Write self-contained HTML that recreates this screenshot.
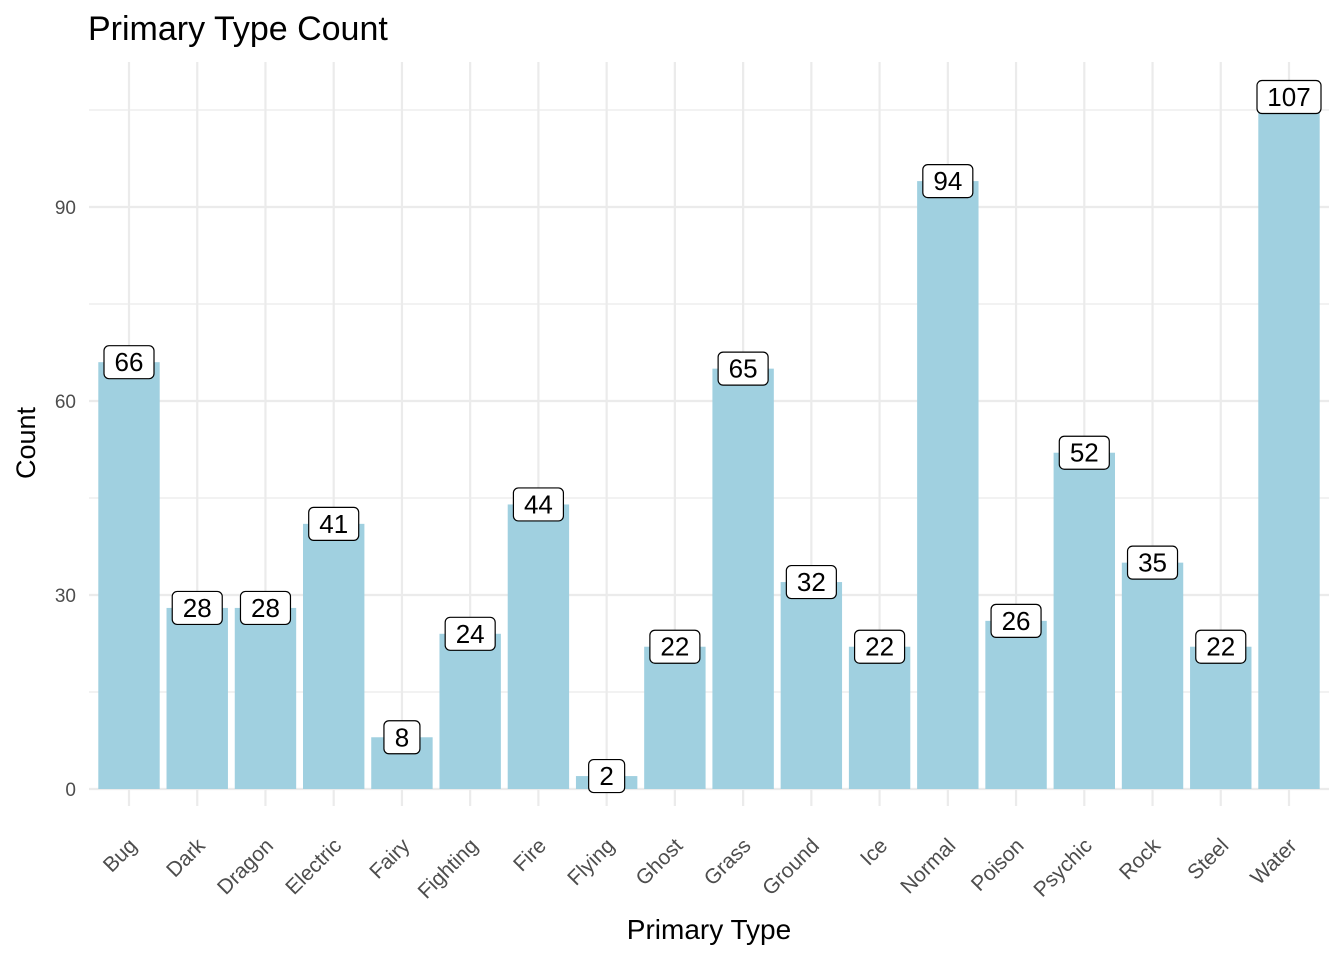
<!DOCTYPE html>
<html><head><meta charset="utf-8"><style>
html,body{margin:0;padding:0;background:#fff;}
svg{display:block;font-family:"Liberation Sans",Arial,sans-serif;}
</style></head><body>
<svg id="chart" width="1344" height="960" viewBox="0 0 1344 960">
<text x="88" y="40" font-size="34" fill="#000">Primary Type Count</text>
<text x="709" y="939" font-size="28" text-anchor="middle" fill="#000">Primary Type</text>
<text transform="translate(35,443) rotate(-90)" font-size="27" text-anchor="middle" fill="#000">Count</text>
<g id="grid"></g><g id="bars"></g><g id="labels"></g><g id="ticks"></g>
</svg>
<script>
const categories = ["Bug","Dark","Dragon","Electric","Fairy","Fighting","Fire","Flying","Ghost","Grass","Ground","Ice","Normal","Poison","Psychic","Rock","Steel","Water"];
const counts = [66,28,28,41,8,24,44,2,22,65,32,22,94,26,52,35,22,107];
const yTicks = [0,30,60,90];
const yMinor = [15,45,75,105];

const NS = "http://www.w3.org/2000/svg";
const y0 = 789, pxPerUnit = 6.467;
const x0 = 129, step = (1289-129)/17, barW = step*0.9;
const panelL = 89, panelR = 1329, panelT = 62, panelB = 806;
function yS(v){ return y0 - v*pxPerUnit; }
function xS(i){ return x0 + i*step; }
function mk(tag, attrs, parent){ const e=document.createElementNS(NS,tag); for(const k in attrs) e.setAttribute(k,attrs[k]); parent.appendChild(e); return e; }
const grid=document.getElementById('grid'), bars=document.getElementById('bars'), labels=document.getElementById('labels'), ticks=document.getElementById('ticks');

yMinor.forEach(v=>{
  const l=mk('line',{x1:panelL,x2:panelR,y1:yS(v),y2:yS(v),stroke:'#ebebeb','stroke-width':1.2},grid);
  
  
});
yTicks.forEach(v=>{
  const l=mk('line',{x1:panelL,x2:panelR,y1:yS(v),y2:yS(v),stroke:'#ebebeb','stroke-width':2.2},grid);
  
  
  const t=mk('text',{x:76,y:yS(v)+7,'font-size':19,'text-anchor':'end',fill:'#4d4d4d'},ticks);
  t.textContent=v;
  
  
});
categories.forEach((c,i)=>{
  const x=xS(i);
  const g=mk('line',{x1:x,x2:x,y1:panelT,y2:panelB,stroke:'#ebebeb','stroke-width':2.2},grid);
  
  
  const v=counts[i];
  const b=mk('rect',{x:x-barW/2,y:yS(v),width:barW,height:v*pxPerUnit,fill:'#a0d0e0'},bars);
  
  
  const txt=String(v), w=txt.length*14+22, h=33;
  const r=mk('rect',{x:x-w/2,y:yS(v)-h/2,width:w,height:h,rx:5,fill:'#fff',stroke:'#000','stroke-width':1.2},labels);
  
  
  const t=mk('text',{x:x,y:yS(v)+9,'font-size':26,'text-anchor':'middle',fill:'#000'},labels);
  t.textContent=txt;
  
  
  const tl=mk('text',{transform:`translate(${x+9},${847}) rotate(-45)`,'font-size':21,'text-anchor':'end',fill:'#4d4d4d'},ticks);
  tl.textContent=c;
  
  
});
</script>
</body></html>
